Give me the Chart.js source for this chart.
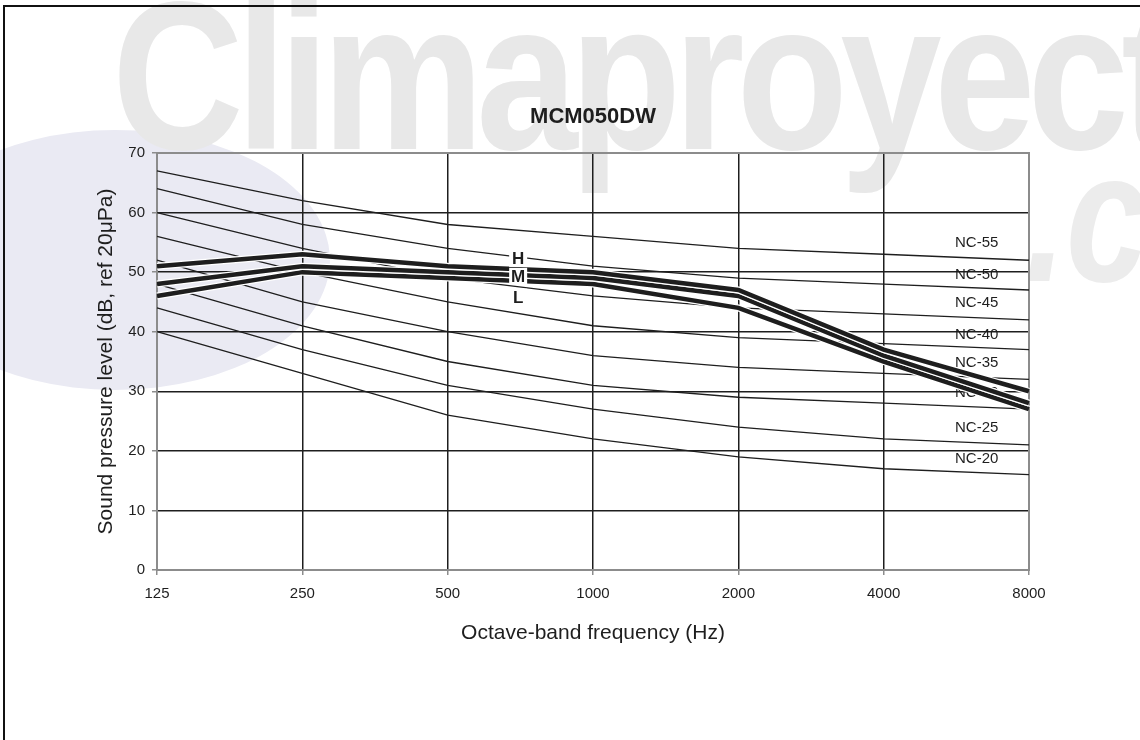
<!DOCTYPE html>
<html>
<head>
<meta charset="utf-8">
<script src="https://cdn.jsdelivr.net/npm/chart.js@4.4.0/dist/chart.umd.min.js"></script>
<style>
  html, body { margin: 0; padding: 0; background: #fff; overflow: hidden; }
  #wrap { position: relative; width: 1140px; height: 740px; }
  #wm { position: absolute; left: 0; top: 0; width: 1140px; height: 740px; overflow: hidden; }
  .wm-circle { position: absolute; left: -100px; top: 130px; width: 430px; height: 260px; border-radius: 50%; background: #eaeaf3; }
  .wm-word { position: absolute; left: 112px; top: -30px; font: bold 212px 'Liberation Sans', Arial, sans-serif; line-height: 1;
             color: #e8e8e8; transform: scaleX(0.86); transform-origin: left top; letter-spacing: -9px; white-space: nowrap; }
  .wm-dot { position: absolute; left: 1025px; top: 125px; font: italic bold 185px 'Liberation Sans', Arial, sans-serif; line-height: 1;
            color: #ececec; transform: scaleX(0.8); transform-origin: left top; white-space: nowrap; }
  #frame { position: absolute; left: 3px; top: 5px; width: 1200px; height: 800px; border-left: 2px solid #111; border-top: 2px solid #111; }
  canvas { position: absolute; left: 0; top: 0; }
</style>
</head>
<body>
<div id="wrap">
  <div id="wm">
    <div class="wm-circle"></div>
    <div class="wm-word">Climaproyect</div>
    <div class="wm-dot">.co</div>
  </div>
  <div id="frame"></div>
  <canvas id="chart-nc" width="1140" height="740"></canvas>
</div>
<script>
// octave bands (Hz)
const frequencies = ['125', '250', '500', '1000', '2000', '4000', '8000'];

// NC reference curves
const nc20 = [40, 33, 26, 22, 19, 17, 16];
const nc25 = [44, 37, 31, 27, 24, 22, 21];
const nc30 = [48, 41, 35, 31, 29, 28, 27];
const nc35 = [52, 45, 40, 36, 34, 33, 32];
const nc40 = [56, 50, 45, 41, 39, 38, 37];
const nc45 = [60, 54, 49, 46, 44, 43, 42];
const nc50 = [64, 58, 54, 51, 49, 48, 47];
const nc55 = [67, 62, 58, 56, 54, 53, 52];
const ncCurves = [nc20, nc25, nc30, nc35, nc40, nc45, nc50, nc55];
const ncNames = ['NC-20', 'NC-25', 'NC-30', 'NC-35', 'NC-40', 'NC-45', 'NC-50', 'NC-55'];
const ncLabelLevels = [18.7, 23.9, 29.7, 34.7, 39.4, 44.8, 49.6, 54.9];

// unit sound pressure by fan speed
const speedHigh = [51, 53, 51, 50, 47, 37, 30];
const speedMed = [48, 51, 50, 49, 46, 36, 28];
const speedLow = [46, 50, 49, 48, 44, 35, 27];
const speedNames = ['H', 'M', 'L'];
const speedLabelLevels = [52.3, 49.3, 45.8];

const fontFamily = "'Liberation Sans', Arial, sans-serif";
const ink = '#1e1e1e';

let datasets = [];
ncCurves.forEach((values, i) => {
  datasets.push({
    label: ncNames[i],
    data: values,
    borderColor: ink,
    borderWidth: 1.3,
    pointRadius: 0,
    tension: 0,
    order: 20
  });
});

// thick speed curves with thin white outline
[[speedLow, 6], [speedMed, 4], [speedHigh, 2]].forEach(([values, ord], i) => {
  datasets.push({ label: 'outline', data: values, borderColor: '#ffffff', borderWidth: 7, pointRadius: 0, order: ord + 1 });
  datasets.push({ label: speedNames[2 - i], data: values, borderColor: ink, borderWidth: 4.5, pointRadius: 0, order: ord });
});

// NC labels sit under the grid, H/M/L labels on top with white box
const curveLabels = {
  id: 'curveLabels',
  beforeDraw(chart) {
    const { ctx, scales: { x, y } } = chart;
    ctx.save();
    ctx.font = '15px ' + fontFamily;
    ctx.fillStyle = ink;
    ctx.textAlign = 'center';
    ctx.textBaseline = 'middle';
    ncNames.forEach((name, i) => {
      ctx.fillText(name, x.getPixelForValue(5.64), y.getPixelForValue(ncLabelLevels[i]));
    });
    ctx.restore();
  },
  afterDatasetsDraw(chart) {
    const { ctx, scales: { x, y } } = chart;
    ctx.save();
    ctx.font = 'bold 17px ' + fontFamily;
    ctx.textAlign = 'center';
    ctx.textBaseline = 'middle';
    speedNames.forEach((name, i) => {
      const px = x.getPixelForValue(2.485);
      const py = y.getPixelForValue(speedLabelLevels[i]);
      ctx.fillStyle = '#ffffff';
      ctx.fillRect(px - 9, py - 8.5, 18, 17);
      ctx.fillStyle = ink;
      ctx.fillText(name, px, py + 1);
    });
    ctx.restore();
  },
  beforeDatasetsDraw(chart) {
    // grey frame round the plot
    const { ctx, chartArea: a } = chart;
    ctx.save();
    ctx.strokeStyle = '#8c8c8c';
    ctx.lineWidth = 2;
    ctx.strokeRect(a.left, a.top, a.right - a.left, a.bottom - a.top);
    ctx.restore();
  }
};

const ctx = document.getElementById('chart-nc').getContext('2d');
new Chart(ctx, {
  type: 'line',
  data: { labels: frequencies, datasets: datasets },
  options: {
    responsive: false,
    animation: false,
    events: [],
    layout: { padding: { left: 0, right: 111, top: 0, bottom: 0 } },
    plugins: {
      legend: { display: false },
      tooltip: { enabled: false },
      title: {
        display: true,
        fullSize: false,
        text: 'MCM050DW',
        color: ink,
        font: { family: fontFamily, size: 22, weight: 'bold' },
        padding: { top: 104, bottom: 22.6 }
      }
    },
    scales: {
      x: {
        type: 'category',
        offset: false,
        grid: { color: ink, lineWidth: 1.5, tickColor: '#8c8c8c', tickLength: 5 },
        border: { color: '#8c8c8c', width: 2 },
        ticks: { color: ink, font: { family: fontFamily, size: 15 }, padding: 10, maxRotation: 0, autoSkip: false },
        title: {
          display: true,
          text: 'Octave-band frequency (Hz)',
          color: ink,
          font: { family: fontFamily, size: 21 },
          padding: { top: 0, bottom: 94 }
        },
        afterFit: scale => { scale.height = 170; }
      },
      y: {
        min: 0,
        max: 70,
        grid: { color: ink, lineWidth: 1.5, tickColor: '#8c8c8c', tickLength: 5 },
        border: { color: '#8c8c8c', width: 2 },
        ticks: { stepSize: 10, color: ink, font: { family: fontFamily, size: 15 }, padding: 7 },
        title: {
          display: true,
          text: 'Sound pressure level (dB, ref 20\u03bcPa)',
          color: ink,
          font: { family: fontFamily, size: 21 },
          padding: { top: 94, bottom: 0 }
        },
        afterFit: scale => { scale.width = 157; }
      }
    }
  },
  plugins: [curveLabels]
});
</script>
</body>
</html>
